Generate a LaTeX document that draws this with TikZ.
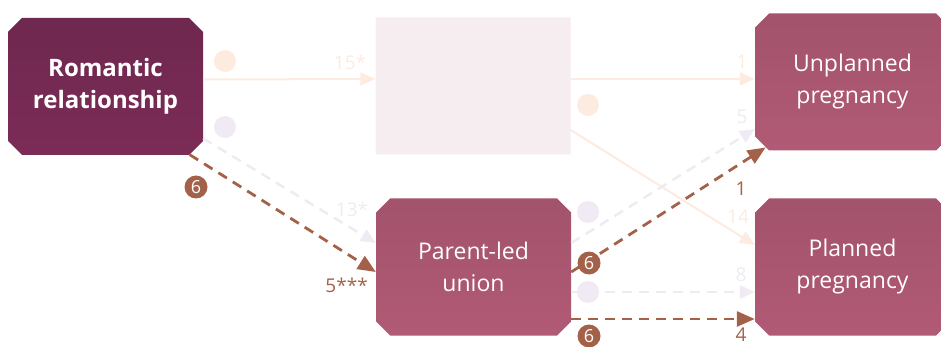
\documentclass[tikz,border=0pt]{standalone}
\usepackage{fontspec}
\setmainfont{Open Sans}
\usetikzlibrary{shapes.misc,arrows.meta}
\definecolor{plum}{HTML}{7B2C57}
\definecolor{rose}{HTML}{B15A75}
\definecolor{palerose}{HTML}{F6EDF1}
\definecolor{rust}{HTML}{A3614A}
\definecolor{paleorange}{HTML}{FDEBE0}
\definecolor{palelav}{HTML}{EFEAF3}
\tikzset{
  box/.style={chamfered rectangle, chamfered rectangle xsep=7pt, chamfered rectangle ysep=7pt,
    inner sep=0pt, minimum width=195pt, minimum height=137pt, draw=none, text=white,
    align=center, font=\fontsize{23}{32}\selectfont},
  dot/.style={circle, inner sep=0pt, minimum size=22pt},
  num/.style={circle, fill=rust, inner sep=0pt, minimum size=23pt, text=white,
    font=\fontsize{18}{18}\selectfont},
  lbl/.style={inner sep=0pt, font=\fontsize{19}{19}\selectfont},
  tip/.style={-{Triangle[length=15pt,width=13pt]}},
  bigtip/.style={-{Triangle[length=18pt,width=15pt]}},
}
\begin{document}
\begin{tikzpicture}[x=1pt,y=-1pt]
\useasboundingbox (0,0) rectangle (941,347);
% boxes
\node[box, top color=plum!90!black, bottom color=plum, font=\fontsize{24}{32}\selectfont\bfseries] (rom) at (105.5,86.5) {Romantic\\relationship};
\node[box, fill=palerose, chamfered rectangle corners={south west,south east}] (mid) at (473,86) {};
\node[box, top color=rose!92!black, bottom color=rose] (par) at (473.5,267) {Parent-led\\union};
\node[box, top color=rose!92!black, bottom color=rose] (unp) at (852.5,82) {Unplanned\\pregnancy};
\node[box, top color=rose!92!black, bottom color=rose] (pla) at (852.5,267) {Planned\\pregnancy};
% faded paths
\path[draw,line width=2pt,paleorange,tip] ([yshift=7pt]rom.east) -- ([yshift=7pt]mid.west);
\path[draw,line width=2pt,paleorange,tip] ([yshift=7pt]mid.east) -- ([yshift=3pt]unp.west);
\path[draw,line width=2pt,paleorange,tip] ([yshift=-44pt]mid.east) -- ([yshift=22pt]pla.west);
\path[draw,line width=2.5pt,palelav,dash pattern=on 10pt off 7pt,tip] (rom.-28) -- ([yshift=24pt]par.west);
\path[draw,line width=2.5pt,palelav,dash pattern=on 10pt off 7pt,tip] ([yshift=24pt]par.east) -- ([yshift=-47pt]unp.west);
\path[draw,line width=2.5pt,palelav,dash pattern=on 10pt off 7pt,tip] ([yshift=-25pt]par.east) -- ([yshift=-25pt]pla.west);
% direct paths
\path[draw,line width=2.8pt,rust,dash pattern=on 10pt off 7pt,bigtip] (rom.-39) -- ([yshift=-5pt]par.west);
\path[draw,line width=2.8pt,rust,dash pattern=on 10pt off 7pt,bigtip] ([yshift=-5pt]par.east) -- (unp.217.6);
\path[draw,line width=2.8pt,rust,dash pattern=on 10pt off 7pt,bigtip] ([yshift=-52pt]par.east) -- ([yshift=-52pt]pla.west);
% markers
\node[dot, fill=paleorange] (o1) at (225,61) {};
\node[dot, fill=palelav] (v1) at (225,127) {};
\node[dot, fill=paleorange] (o2) at (588,105) {};
\node[dot, fill=palelav] (v2) at (588,212) {};
\node[dot, fill=palelav] (v3) at (588,292) {};
\node[num] (n1) at (196,187) {6};
\node[num] (n2) at (589,263) {6};
\node[num] (n3) at (589,336) {6};
% labels
\node[lbl, text=paleorange] (e1) at (350,62) {15*};
\node[lbl, text=palelav] (e2) at (352,209) {13*};
\node[lbl, text=rust, anchor=east] (e3) at (368,285) {5***};
\node[lbl, text=paleorange] (e4) at (742,62) {1};
\node[lbl, text=palelav] (e5) at (742,117) {5};
\node[lbl, text=rust] (e6) at (741,189) {1};
\node[lbl, text=paleorange] (e7) at (738,217) {14};
\node[lbl, text=palelav] (e8) at (741,275) {8};
\node[lbl, text=rust] (e9) at (741,335) {4};
\end{tikzpicture}
\end{document}
